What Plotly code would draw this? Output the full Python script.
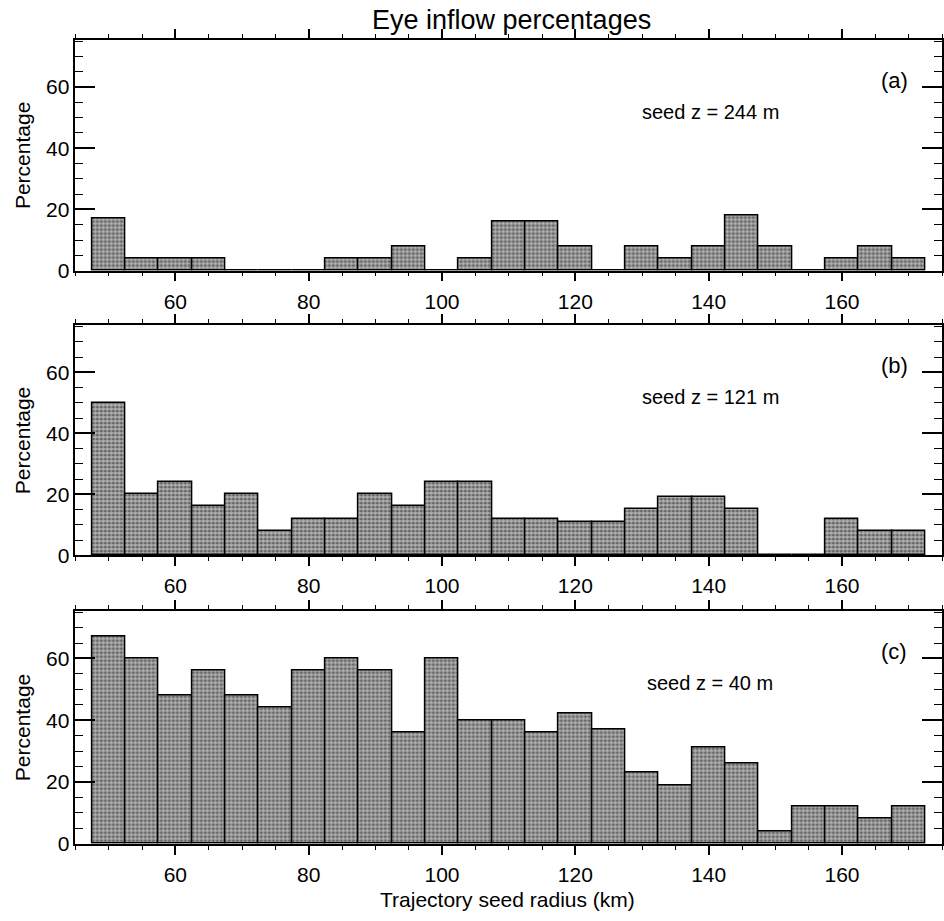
import plotly.graph_objects as go
from plotly.subplots import make_subplots

# ---- data ----
radius = [50, 55, 60, 65, 70, 75, 80, 85, 90, 95, 100, 105, 110, 115, 120,
          125, 130, 135, 140, 145, 150, 155, 160, 165, 170]
pct_a = [17, 4, 4, 4, 0, 0, 0, 4, 4, 8, 0, 4, 16, 16, 8,
         0, 8, 4, 8, 18, 8, 0, 4, 8, 4]
pct_b = [50, 20, 24, 16, 20, 8, 12, 12, 20, 16, 24, 24, 12, 12, 11,
         11, 15, 19, 19, 15, 0, 0, 12, 8, 8]
pct_c = [67, 60, 48, 56, 48, 44, 56, 60, 56, 36, 60, 40, 40, 36, 42,
         37, 23, 19, 31, 26, 4, 12, 12, 8, 12]
panels = [("(a)", "seed z = 244 m", pct_a),
          ("(b)", "seed z = 121 m", pct_b),
          ("(c)", "seed z = 40 m", pct_c)]
bin_width = 5
x_ticks = [60, 80, 100, 120, 140, 160]

W, H = 944, 921
FONT = "Liberation Sans, Arial, Helvetica, sans-serif"

# panel pixel extents (top, bottom)
pix = [(40, 274), (329, 562), (618, 854)]
left_px = 75.5

fig = make_subplots(rows=3, cols=1)

for i, (lab, seed, vals) in enumerate(panels):
    fig.add_trace(go.Bar(
        x=radius, y=vals, width=bin_width,
        marker=dict(color="#888888",
                    line=dict(color="black", width=1.5),
                    pattern=dict(shape=".", fgcolor="#111111", bgcolor="#b4b4b4",
                                 size=4, solidity=0.5)),
        showlegend=False, hoverinfo="x+y"),
        row=i + 1, col=1)

ann = []
for i, (lab, seed, vals) in enumerate(panels):
    top, bot = pix[i]
    xa = "xaxis" if i == 0 else f"xaxis{i+1}"
    ya = "yaxis" if i == 0 else f"yaxis{i+1}"
    fig.layout[xa].update(
        domain=[left_px / W, 1.0], range=[45, 175],
        tickmode="array", tickvals=x_ticks,
        ticks="outside", ticklen=9, tickwidth=1.5, tickcolor="black",
        showline=True, linecolor="black", linewidth=1.5, mirror="allticks",
        showgrid=False, zeroline=False,
        minor=dict(dtick=5, tick0=0, ticks="outside", ticklen=4, tickwidth=1,
                   tickcolor="black", showgrid=False),
        tickfont=dict(size=21, family=FONT, color="black"),
        ticklabelstandoff=2,
    )
    fig.layout[ya].update(
        domain=[1 - bot / H, 1 - top / H], range=[0, 75.5],
        tickmode="linear", tick0=0, dtick=20,
        ticks="inside", ticklen=20, tickwidth=1.5, tickcolor="black",
        showline=True, linecolor="black", linewidth=1.5, mirror="allticks",
        showgrid=False, zeroline=False,
        minor=dict(dtick=5, tick0=0, ticks="inside", ticklen=8, tickwidth=1,
                   tickcolor="black", showgrid=False),
        tickfont=dict(size=21, family=FONT, color="black"),
    )
    ann.append(dict(text=lab, xref="paper", yref="paper",
                    x=896 / W, y=1 - (top + 41) / H, showarrow=False,
                    xanchor="center", yanchor="middle",
                    font=dict(size=22, family=FONT, color="black")))
    ann.append(dict(text=seed, xref="paper", yref="paper",
                    x=712 / W, y=1 - (top + 73) / H, showarrow=False,
                    xanchor="center", yanchor="middle",
                    font=dict(size=20, family=FONT, color="black")))
    ann.append(dict(text="Percentage", xref="paper", yref="paper",
                    x=22 / W, y=1 - (top + bot) / 2 / H, showarrow=False,
                    textangle=-90, xanchor="center", yanchor="middle",
                    font=dict(size=21, family=FONT, color="black")))

ann.append(dict(text="Eye inflow percentages", xref="paper", yref="paper",
                x=513 / W, y=1 - 20 / H, showarrow=False,
                xanchor="center", yanchor="middle",
                font=dict(size=27, family=FONT, color="black")))
ann.append(dict(text="Trajectory seed radius (km)", xref="paper", yref="paper",
                x=509 / W, y=1 - 910 / H, showarrow=False,
                xanchor="center", yanchor="middle", borderpad=0,
                font=dict(size=21, family=FONT, color="black")))

fig.update_layout(
    width=W, height=H,
    margin=dict(l=0, r=0, t=0, b=0),
    plot_bgcolor="white", paper_bgcolor="white",
    bargap=0, showlegend=False,
    font=dict(family=FONT, size=21, color="black"),
    annotations=ann,
)

fig.write_html("out.html")
